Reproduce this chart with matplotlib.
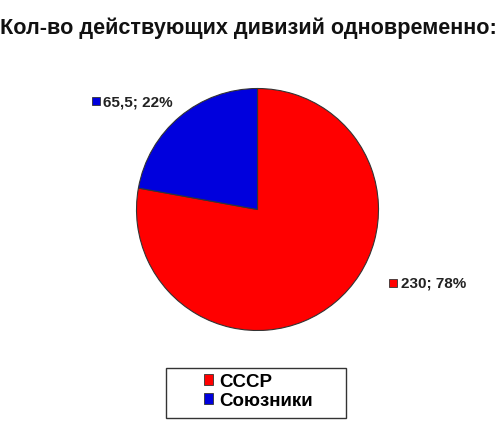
import matplotlib.pyplot as plt
from matplotlib.patches import Patch, Rectangle

plt.rcParams['font.family'] = ['Liberation Sans', 'DejaVu Sans']

title = "Кол-во действующих дивизий одновременно:"
labels = ["СССР", "Союзники"]
values = [230, 65.5]
value_text = ["230", "65,5"]
colors = ["#FF0000", "#0000DD"]

W, H = 500, 435
fig = plt.figure(figsize=(W / 100, H / 100), dpi=100)

# pie centre (257.5, 210.5) px, radius 121 px
cx, cy, r = 257.5, 210.5, 121
ax = fig.add_axes([(cx - r) / W, (H - cy - r) / H, 2 * r / W, 2 * r / H])
wedges, _ = ax.pie(values, colors=colors, startangle=90, counterclock=False,
                   wedgeprops=dict(edgecolor="#333333", linewidth=0.8))
ax.set_xlim(-1, 1)
ax.set_ylim(-1, 1)

# data labels with little coloured squares
total = sum(values)
label_pos = [(393.5, 283.7), (96.2, 102.0)]  # square centres in px
for i, (px, py) in enumerate(label_pos):
    x = (px - cx) / r
    y = (cy - py) / r
    ax.plot([x], [y], marker="s", markersize=6, color=colors[i],
            markeredgecolor="#333333", markeredgewidth=0.6, clip_on=False)
    pct = round(values[i] / total * 100)
    ax.text(x + 0.06, y, f"{value_text[i]}; {pct}%", fontsize=11,
            fontweight="bold", color="#222222", va="center", ha="left")

fig.text(248 / W, 1 - 28 / H, title, fontsize=15.6, fontweight="bold",
         ha="center", va="center", color="#111111")

# legend frame
fig.add_artist(Rectangle((166 / W, 1 - 419 / H), 180 / W, 50 / H,
                         transform=fig.transFigure, fill=False,
                         edgecolor="#333333", linewidth=1))
handles = [Patch(facecolor=c, edgecolor="#333333", linewidth=0.6) for c in colors]
leg = fig.legend(handles, labels, loc="upper left",
                 bbox_to_anchor=(204 / W, 1 - 374 / H), frameon=False,
                 prop=dict(size=13.5, weight="bold"), handlelength=0.5,
                 handleheight=0.5, handletextpad=0.3, labelspacing=0.12,
                 borderpad=0, borderaxespad=0)

fig.savefig("out.png", dpi=100)
